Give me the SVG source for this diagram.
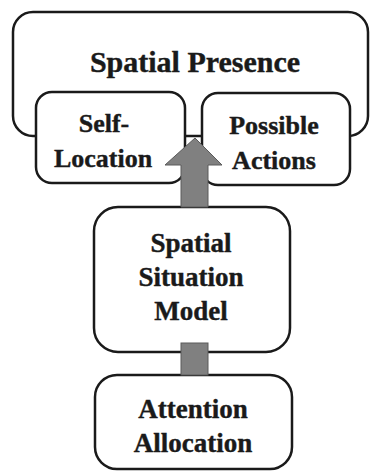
<svg xmlns="http://www.w3.org/2000/svg" width="370" height="472" viewBox="0 0 370 472">
<style>
.box{fill:#fff;stroke:#1a1a1a;stroke-width:2.5}
.lbl{font-family:"Liberation Serif","Times New Roman",serif;font-weight:bold;fill:#1a1a1a;stroke:#1a1a1a;stroke-width:0.4;text-anchor:middle}
.conn{fill:#808080;stroke:#5a5a5a;stroke-width:1}
</style>
<rect width="370" height="472" fill="#fff"/>
<g id="spatial-presence">
<rect class="box" x="13" y="12" width="355" height="124" rx="20"/>
<text class="lbl" x="195" y="72" font-size="30">Spatial Presence</text>
</g>
<g id="self-location">
<rect class="box" x="36" y="92" width="149" height="91" rx="16"/>
<text class="lbl" x="104" y="132" font-size="26">Self-</text>
<text class="lbl" x="103" y="167" font-size="26">Location</text>
</g>
<g id="possible-actions">
<rect class="box" x="202" y="93" width="148" height="92" rx="16"/>
<text class="lbl" x="274" y="134" font-size="26">Possible</text>
<text class="lbl" x="274" y="169" font-size="26">Actions</text>
</g>
<g id="spatial-situation-model">
<rect class="box" x="94" y="207" width="196" height="145" rx="24"/>
<text class="lbl" x="191" y="252" font-size="27">Spatial</text>
<text class="lbl" x="191" y="286" font-size="27">Situation</text>
<text class="lbl" x="191" y="320" font-size="27">Model</text>
</g>
<g id="attention-allocation">
<rect class="box" x="95" y="375" width="197" height="94" rx="22"/>
<text class="lbl" x="193" y="418" font-size="27">Attention</text>
<text class="lbl" x="193" y="452" font-size="27">Allocation</text>
</g>
<g id="connectors">
<polygon class="conn" points="181,207 181,165 165,165 195,138 222,165 208,165 208,207"/>
<rect class="conn" x="181" y="343" width="27" height="32"/>
</g>
</svg>
